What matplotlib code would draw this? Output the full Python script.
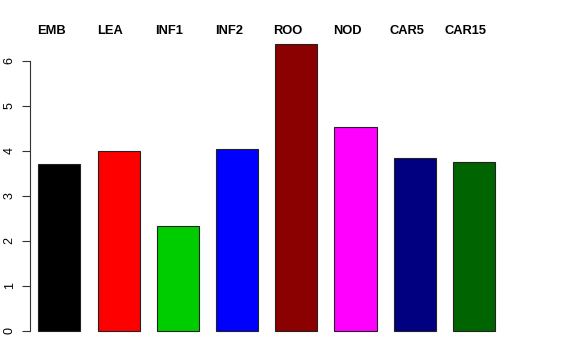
import matplotlib
matplotlib.use("Agg")
import matplotlib.pyplot as plt
import matplotlib.transforms as mtransforms

categories = ["EMB", "LEA", "INF1", "INF2", "ROO", "NOD", "CAR5", "CAR15"]
values = [3.70, 3.99, 2.33, 4.05, 6.38, 4.52, 3.84, 3.76]
colors = ["#000000", "#FF0000", "#00CD00", "#0000FF", "#8B0000", "#FF00FF", "#000080", "#006400"]
yticks = [0, 1, 2, 3, 4, 5, 6]

plt.rcParams['font.family'] = ['Liberation Sans', 'DejaVu Sans']

W, H = 576, 360
fig = plt.figure(figsize=(W / 100, H / 100), dpi=100)
L, R, T, B = 29.5, 546, 35, 345
ax = fig.add_axes([L / W, 1 - B / H, (R - L) / W, (B - T) / H])

x0px, pitch = 59.3, 59.24
y0px, ppu = 331, 45.05
ax.set_xlim((L - x0px) / pitch, (R - x0px) / pitch)
ax.set_ylim(-(B - y0px) / ppu, (y0px - T) / ppu)

xs = list(range(len(categories)))
ax.bar(xs, values, width=0.709, color=colors, edgecolor="#222222", linewidth=0.8)

for s in ["top", "right", "bottom"]:
    ax.spines[s].set_visible(False)
ax.spines["left"].set_bounds(0, 6)
ax.spines["left"].set_linewidth(0.8)
ax.spines["left"].set_color("#333333")
ax.set_xticks([])
ax.set_yticks(yticks)
ax.set_yticklabels([str(t) for t in yticks], rotation=90, va="center", fontsize=9)
ax.tick_params(axis="y", length=6, width=0.8, color="#333333", pad=4)

trans = mtransforms.blended_transform_factory(ax.transData, fig.transFigure)
for x, c in zip(xs, categories):
    ax.text(x - 0.14, 1 - 34 / H, c, transform=trans, ha="center", va="baseline",
            fontsize=9.3, fontweight="bold")

fig.savefig("out.png", dpi=100)
